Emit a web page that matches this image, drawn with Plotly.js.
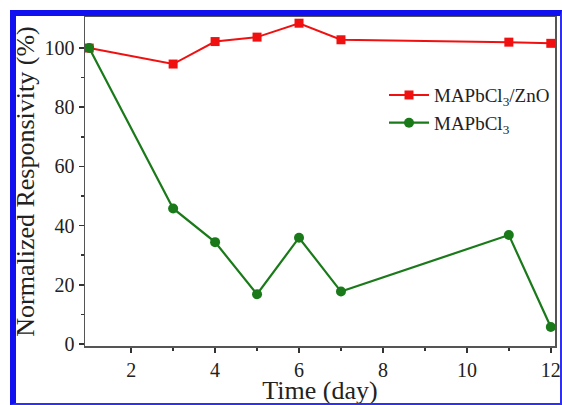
<!DOCTYPE html>
<html><head><meta charset="utf-8">
<script src="https://cdn.plot.ly/plotly-3.0.1.min.js"></script>
<style>
body{margin:0;padding:0;background:#fff;}
#wrap{position:relative;width:562px;height:405px;}
#chart{position:absolute;left:0;top:0;width:562px;height:405px;}
#frame{position:absolute;left:10px;top:10px;width:544px;height:387px;border-top:6px solid #1010f0;border-left:6px solid #1010f0;border-right:2px solid #3030f0;border-bottom:2px solid #3030f0;pointer-events:none;}
</style></head>
<body>
<div id="wrap"><div id="chart"></div><div id="frame"></div></div>
<script>
var days = [1, 3, 4, 5, 6, 7, 11, 12];
var zno = [100, 94.6, 102.2, 103.7, 108.4, 102.8, 102.0, 101.6];
var pure = [100, 45.8, 34.4, 16.8, 35.9, 17.7, 36.8, 5.7];
var names = ['MAPbCl<sub>3</sub>/ZnO', 'MAPbCl<sub>3</sub>'];

var font = 'Liberation Serif';
var traces = [
  {x: days, y: zno, name: names[0], mode: 'lines+markers', type: 'scatter',
   line: {color: '#f01010', width: 2}, marker: {symbol: 'square', size: 9, color: '#f01010'}},
  {x: days, y: pure, name: names[1], mode: 'lines+markers', type: 'scatter',
   line: {color: '#1a7a1a', width: 2.2}, marker: {symbol: 'circle', size: 10, color: '#1a7a1a'}}
];
var layout = {
  width: 562, height: 405,
  margin: {l: 85, r: 7, t: 17, b: 59, autoexpand: false},
  paper_bgcolor: '#fff', plot_bgcolor: '#fff',
  font: {family: font, color: '#222', size: 20},
  showlegend: true,
  legend: {x: 1.0, y: 0.72, xanchor: 'right', yanchor: 'middle', bgcolor: 'rgba(0,0,0,0)',
           font: {family: font, size: 19, color: '#222'}, tracegroupgap: 0, itemwidth: 40},
  xaxis: {range: [0.9, 12.1], tickvals: [2, 4, 6, 8, 10, 12], ticks: 'outside', ticklen: 5, tickwidth: 1.5,
          tickcolor: '#333', showline: true, linecolor: '#555', linewidth: 1.5, mirror: true,
          showgrid: false, zeroline: false, automargin: false, tickfont: {family: font, size: 20, color: '#222'},
          minor: {tickvals: [3, 5, 7, 9, 11], ticks: 'outside', ticklen: 3, tickcolor: '#333', showgrid: false},
          title: {text: 'Time (day)', font: {family: font, size: 26, color: '#222'}, standoff: 0}},
  yaxis: {range: [-0.7, 110.5], tickvals: [0, 20, 40, 60, 80, 100], ticks: 'outside', ticklen: 5, tickwidth: 1.5,
          tickcolor: '#333', showline: true, linecolor: '#555', linewidth: 1.5, mirror: true,
          showgrid: false, zeroline: false, automargin: false, tickfont: {family: font, size: 20, color: '#222'},
          minor: {tickvals: [10, 30, 50, 70, 90], ticks: 'outside', ticklen: 3, tickcolor: '#333', showgrid: false},
          title: {text: 'Normalized Responsivity (%)', font: {family: font, size: 26, color: '#222'}, standoff: 2}}
};
Plotly.newPlot('chart', traces, layout, {displayModeBar: false, staticPlot: true});
</script>
</body></html>
